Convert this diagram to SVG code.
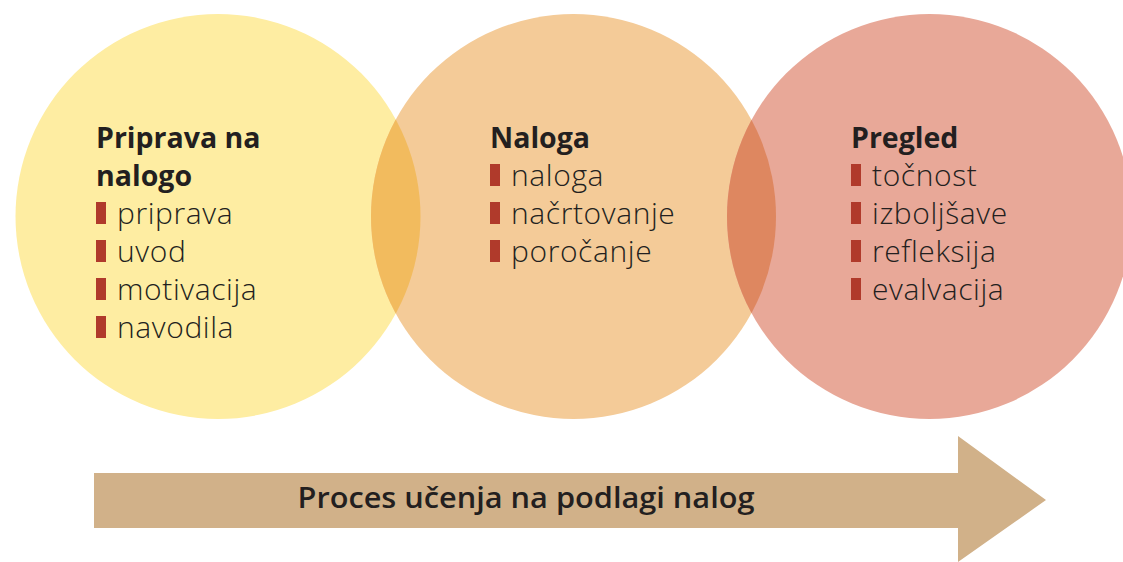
<svg xmlns="http://www.w3.org/2000/svg" width="1123" height="562" viewBox="0 0 1123 562">
<style>
.h{font-family:"Open Sans","Liberation Sans",sans-serif;font-weight:700;font-size:28.5px;fill:#231f20}
.t{font-family:"Open Sans","Liberation Sans",sans-serif;font-weight:300;font-size:30px;letter-spacing:0.6px;fill:#231f20}
.b{fill:#b03a2b}
.lbl{font-family:"Open Sans","Liberation Sans",sans-serif;font-weight:600;font-size:28px;fill:#231f20}
</style>
<defs>
<clipPath id="cl"><circle cx="218" cy="216.5" r="202.5"/></clipPath>
<clipPath id="cr"><circle cx="929.5" cy="216.5" r="202.5"/></clipPath>
</defs>
<rect width="1123" height="562" fill="#ffffff"/>
<g id="circles">
<circle cx="218" cy="216.5" r="202.5" fill="#feeda2"/>
<circle cx="573.5" cy="216.5" r="202.5" fill="#f4cb98"/>
<circle cx="929.5" cy="216.5" r="202.5" fill="#e8a898"/>
<circle cx="573.5" cy="216.5" r="202.5" fill="#f2bb5e" clip-path="url(#cl)"/>
<circle cx="573.5" cy="216.5" r="202.5" fill="#de8760" clip-path="url(#cr)"/>
</g>
<g id="priprava">
<text class="h" x="96" y="148">Priprava na</text>
<text class="h" x="96" y="186">nalogo</text>
<rect class="b" x="96" y="202" width="10" height="22"/><text class="t" x="117" y="224">priprava</text>
<rect class="b" x="96" y="240" width="10" height="22"/><text class="t" x="117" y="262">uvod</text>
<rect class="b" x="96" y="278" width="10" height="22"/><text class="t" x="117" y="300">motivacija</text>
<rect class="b" x="96" y="316" width="10" height="22"/><text class="t" x="117" y="338">navodila</text>
</g>
<g id="naloga">
<text class="h" x="490" y="148">Naloga</text>
<rect class="b" x="490" y="164" width="10" height="22"/><text class="t" x="511" y="186">naloga</text>
<rect class="b" x="490" y="202" width="10" height="22"/><text class="t" x="511" y="224">načrtovanje</text>
<rect class="b" x="490" y="240" width="10" height="22"/><text class="t" x="511" y="262">poročanje</text>
</g>
<g id="pregled">
<text class="h" x="851" y="148">Pregled</text>
<rect class="b" x="851" y="164" width="10" height="22"/><text class="t" x="872" y="186">točnost</text>
<rect class="b" x="851" y="202" width="10" height="22"/><text class="t" x="872" y="224">izboljšave</text>
<rect class="b" x="851" y="240" width="10" height="22"/><text class="t" x="872" y="262">refleksija</text>
<rect class="b" x="851" y="278" width="10" height="22"/><text class="t" x="872" y="300">evalvacija</text>
</g>
<g id="arrow">
<polygon points="94,473 958,473 958,436 1046,500 958,562 958,528 94,528" fill="#d1b189"/>
<text class="lbl" x="526" y="508" text-anchor="middle" textLength="457" lengthAdjust="spacingAndGlyphs">Proces učenja na podlagi nalog</text>
</g>
</svg>
